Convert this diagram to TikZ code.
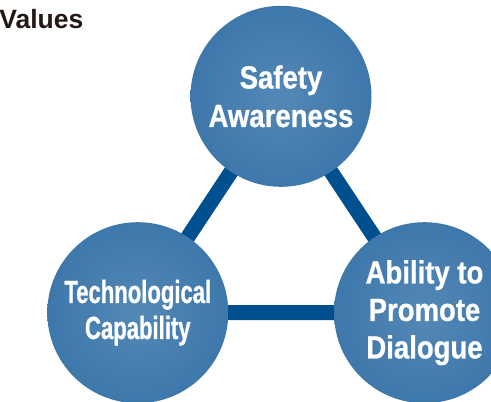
\documentclass[tikz,border=0pt]{standalone}
\usepackage{fontspec}
\setmainfont{Liberation Sans}
\newfontfamily\wideA{Liberation Sans}[FakeStretch=0.86, FakeBold=0.8]
\newfontfamily\narrowA{Liberation Sans}[FakeStretch=0.69, FakeBold=0.8]
\usetikzlibrary{backgrounds}
\definecolor{ballin}{RGB}{84,136,182}
\definecolor{ballout}{RGB}{40,103,160}
\definecolor{connblue}{RGB}{0,80,143}
\definecolor{titleink}{RGB}{35,24,21}
\pgfdeclareradialshading{ballshade}{\pgfpoint{0bp}{0bp}}{color(0bp)=(ballin); color(50bp)=(ballout)}
\tikzset{
  ball/.style={circle, minimum size=181pt, inner sep=0pt, shading=ballshade, text=white, align=center},
  wlabel/.style={font=\wideA\bfseries\fontsize{32}{38.5}\selectfont},
  nlabel/.style={font=\narrowA\bfseries\fontsize{32}{36}\selectfont},
  conn/.style={draw=connblue, line width=15pt}
}
\begin{document}
\begin{tikzpicture}[x=1pt, y=-1pt]
\useasboundingbox (0,0) rectangle (491,402);
\clip (0,0) rectangle (491,402);
\node[anchor=base east, font=\bfseries\fontsize{26.5}{30}\selectfont, text=titleink, inner sep=0pt] (title) at (83.5,28.3) {Values};
\node[ball, wlabel] (safety) at (281,96.3) {Safety\\Awareness};
\node[ball, nlabel] (tech) at (137.8,312.7) {Technological\\Capability};
\node[ball, wlabel, font=\wideA\bfseries\fontsize{32}{37.5}\selectfont] (dialog) at (424.5,312.7) {Ability to\\Promote\\Dialogue};
\begin{scope}[on background layer]
\draw[conn] (safety.center) -- (tech.center) -- (dialog.center) -- (safety.center);
\end{scope}
\end{tikzpicture}
\end{document}
